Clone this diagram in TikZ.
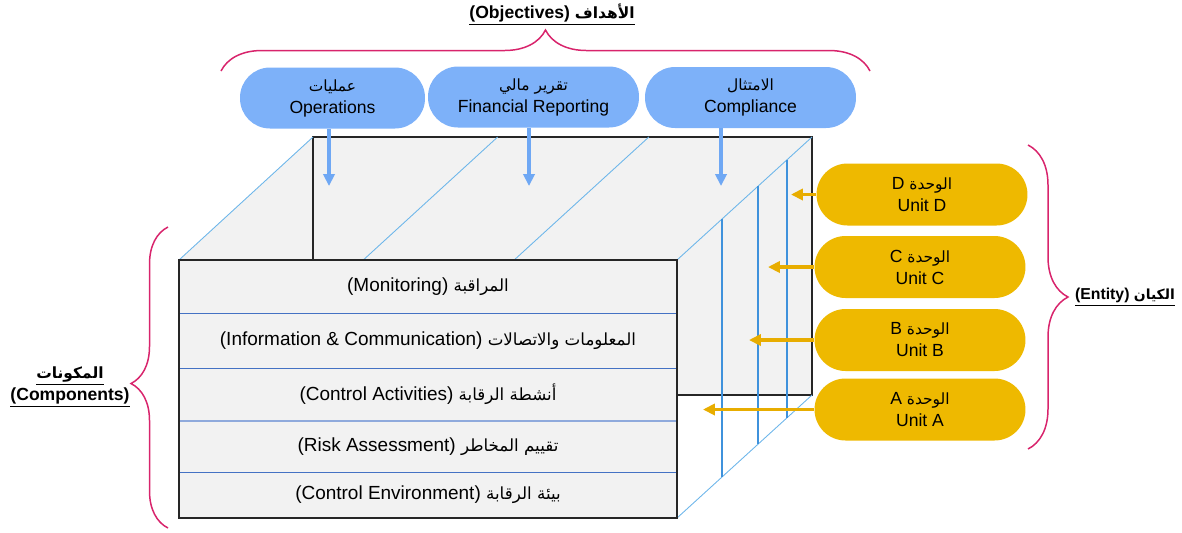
\documentclass[tikz,border=0pt]{standalone}
\usepackage{fontspec}
\setmainfont{Liberation Sans}
\newfontfamily\arabicfont[Script=Arabic,Scale=0.88]{DejaVu Sans}
\TeXXeTstate=1
\usepackage{tikz}
\usetikzlibrary{arrows.meta, calc, decorations.pathreplacing}
\usepackage{xcolor}
\definecolor{facegray}{HTML}{F2F2F2}
\definecolor{edgeblue}{HTML}{4472C4}
\definecolor{midblue}{HTML}{8FAADC}
\definecolor{diagblue}{HTML}{6DB6EA}
\definecolor{sideblue}{HTML}{3F92DC}
\definecolor{objblue}{HTML}{7DB1F9}
\definecolor{arrowblue}{HTML}{6FA8F4}
\definecolor{unitgold}{HTML}{EEB900}
\definecolor{arrowgold}{HTML}{E8AD00}
\definecolor{bracered}{HTML}{D8246C}
\newcommand{\artxt}[1]{{\arabicfont\beginR #1\endR}}

\begin{document}
\begin{tikzpicture}[
    x=0.02cm, y=-0.02cm,
    font=\fontsize{10}{12.5}\selectfont,
    objbox/.style={rectangle, rounded corners=0.6cm, fill=objblue, minimum height=1.22cm, align=center, inner sep=0pt},
    unitbox/.style={rectangle, rounded corners=0.62cm, fill=unitgold, minimum width=4.22cm, minimum height=1.24cm, align=center, inner sep=0pt},
    layer/.style={rectangle, fill=facegray, minimum width=9.96cm, inner sep=0pt, font=\fontsize{10.8}{13}\selectfont},
    rowline/.style={edgeblue, line width=0.6pt},
    frontedge/.style={draw=black!85, line width=1.1pt},
    diag/.style={diagblue, line width=0.5pt},
    sideline/.style={sideblue, line width=0.7pt},
    objarrow/.style={-{Triangle[width=6.4pt, length=6.8pt]}, arrowblue, line width=2.1pt},
    unitarrow/.style={-{Triangle[width=6.4pt, length=6.8pt]}, arrowgold, line width=1.9pt},
    bracepath/.style={decorate, bracered, line width=0.85pt},
    bracelabel/.style={font=\fontsize{10}{12.5}\selectfont\bfseries, align=center}
]
    \useasboundingbox (0,0) rectangle (1182,532);

    % Cube corners
    \coordinate (fnw) at (179,260);
    \coordinate (fne) at (677,260);
    \coordinate (fse) at (677,518);
    \coordinate (bnw) at (313,137);
    \coordinate (bne) at (812,137);
    \coordinate (bse) at (812,395);

    % Top face and back face
    \fill [facegray] (fnw) -- (bnw) -- (bne) -- (fne) -- cycle;
    \draw [fill=facegray, frontedge] (bnw) rectangle (bse);

    % Objective slices on top
    \draw [diag] (fnw) -- (bnw);
    \foreach \t in {0.37,0.673}
        \draw [diag] ($(fnw)!\t!(fne)$) -- ($(bnw)!\t!(bne)$);
    \draw [diag] (fne) -- (bne);
    \draw [diag] (fse) -- (bse);

    % Entity slices on the side
    \foreach \t in {0.333,0.6,0.815}
        \draw [sideline] ($(fne)!\t!(bne)$) -- ($(fse)!\t!(bse)$);

    % Components (front face)
    \node [layer, minimum height=1.06cm] (monitor) at (428,286.5) {(Monitoring) \artxt{المراقبة}};
    \node [layer, minimum height=1.10cm] (infocom) at (428,340.5) {(Information \& Communication) \artxt{المعلومات والاتصالات}};
    \node [layer, minimum height=1.06cm] (ctrlact) at (428,394.5) {(Control Activities) \artxt{أنشطة الرقابة}};
    \node [layer, minimum height=1.02cm] (risk) at (428,446.5) {(Risk Assessment) \artxt{تقييم المخاطر}};
    \node [layer, minimum height=0.92cm] (environ) at (428,495) {(Control Environment) \artxt{بيئة الرقابة}};

    \draw [rowline] (monitor.south west) -- (monitor.south east);
    \draw [rowline] (infocom.south west) -- (infocom.south east);
    \draw [midblue, line width=1.2pt] (ctrlact.south west) -- (ctrlact.south east);
    \draw [rowline] (risk.south west) -- (risk.south east);
    \draw [frontedge] (monitor.north west) rectangle (environ.south east);

    % Objectives
    \node [objbox, minimum width=3.7cm] (ops) at (332.5,98) {\artxt{عمليات}\\Operations};
    \node [objbox, minimum width=4.22cm] (finrep) at (533.5,97) {\artxt{تقرير مالي}\\Financial Reporting};
    \node [objbox, minimum width=4.22cm] (comp) at (750.5,97.5) {\artxt{الامتثال}\\Compliance};

    \coordinate (opsTip) at (329,186);
    \coordinate (finTip) at (529,186);
    \coordinate (compTip) at (721,186);
    \draw [objarrow] (ops.south -| opsTip) -- (opsTip);
    \draw [objarrow] (finrep.south -| finTip) -- (finTip);
    \draw [objarrow] (comp.south -| compTip) -- (compTip);

    % Entity units
    \node [unitbox] (unitD) at (922,194.5) {D \artxt{الوحدة}\\Unit D};
    \node [unitbox] (unitC) at (920,267) {C \artxt{الوحدة}\\Unit C};
    \node [unitbox] (unitB) at (920,340) {B \artxt{الوحدة}\\Unit B};
    \node [unitbox] (unitA) at (920,409.5) {A \artxt{الوحدة}\\Unit A};

    \coordinate (dTip) at (791,194.5);
    \coordinate (cTip) at (768,267);
    \coordinate (bTip) at (749,340);
    \coordinate (aTip) at (703,409.5);
    \draw [unitarrow] (unitD.west) -- (dTip);
    \draw [unitarrow] (unitC.west) -- (cTip);
    \draw [unitarrow] (unitB.west) -- (bTip);
    \draw [unitarrow] (unitA.west) -- (aTip);

    % Braces and their labels
    \coordinate (objL) at (221,71);
    \coordinate (objR) at (870,71);
    \draw [bracepath, decoration={brace, amplitude=0.82cm}] (objL) -- (objR);
    \node [bracelabel] (objlabel) at (552,15) {\underline{(Objectives) \artxt{الأهداف}}};

    \coordinate (entT) at (1028,145);
    \coordinate (entB) at (1028,449);
    \draw [bracepath, decoration={brace, amplitude=0.8cm}] (entT) -- (entB);
    \node [bracelabel, font=\fontsize{9}{11}\selectfont\bfseries, anchor=east] (entlabel) at (1181,297) {\underline{(Entity) \artxt{الكيان}}};

    \coordinate (comB) at (168,528);
    \coordinate (comT) at (168,227);
    \draw [bracepath, decoration={brace, amplitude=0.74cm, aspect=0.48}] (comB) -- (comT);
    \node [bracelabel] (comlabel) at (70,387) {\underline{\artxt{المكونات}}\\\underline{(Components)}};

\end{tikzpicture}
\end{document}
